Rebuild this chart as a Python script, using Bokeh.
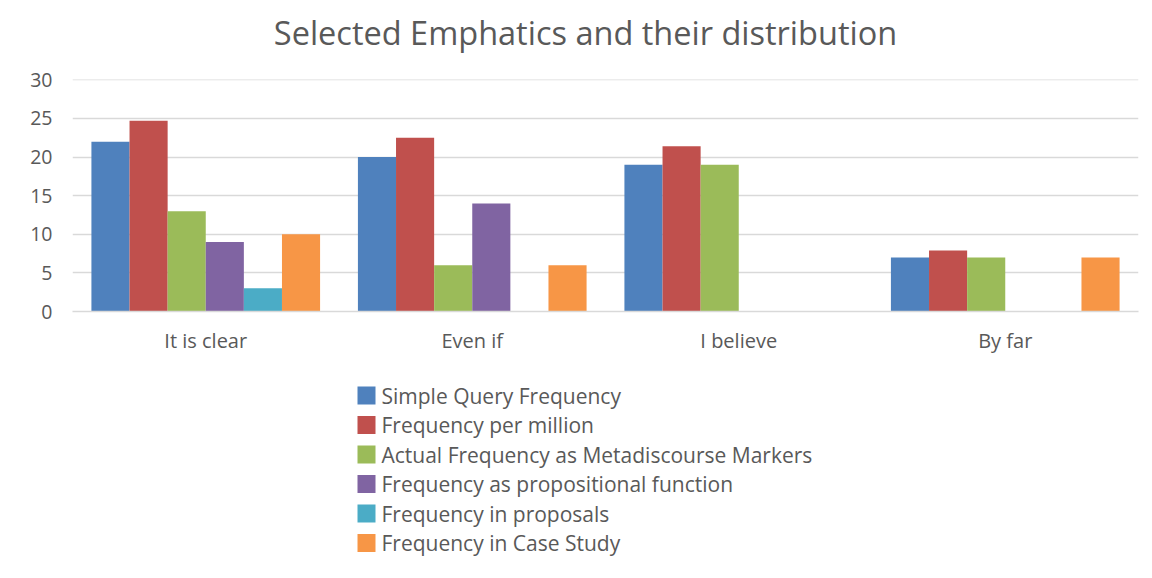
from bokeh.plotting import figure
from bokeh.models import FactorRange, ColumnDataSource, FixedTicker, Range1d
from bokeh.layouts import column
from bokeh.transform import dodge
from bokeh.core.properties import value
from bokeh.embed import file_html
from bokeh.resources import INLINE

# Emphatic expressions and their frequencies
categories = ["It is clear", "Even if", "I believe", "By far"]
series_names = [
    "Simple Query Frequency",
    "Frequency per million",
    "Actual Frequency as Metadiscourse Markers",
    "Frequency as propositional function",
    "Frequency in proposals",
    "Frequency in Case Study",
]
simple_query = [22, 20, 19, 7]
per_million = [24.7, 22.5, 21.4, 7.9]
metadiscourse = [13, 6, 19, 7]
propositional = [9, 14, 0, 0]
proposals = [3, 0, 0, 0]
case_study = [10, 6, 0, 7]
y_ticks = [0, 5, 10, 15, 20, 25, 30]
title_text = "Selected Emphatics and their distribution"

colors = ["#4f81bd", "#c0504d", "#9bbb59", "#8064a2", "#4bacc6", "#f79646"]
series_values = [simple_query, per_million, metadiscourse, propositional, proposals, case_study]

FONT = "Open Sans"
TEXT = "#595959"
GRID = "#d9d9d9"

W = 1152
LEFT, RIGHT = 72, 14          # chart frame margins
H_HEAD = 56
H_CHART = 362 - H_HEAD
H_LEGEND = 578 - H_HEAD - H_CHART


def pixel_panel(height):
    """A blank figure whose data units are page pixels (x) and pixels from its top (y).

    Frames in a column are aligned with the chart's frame, so the x range
    spans that frame's pixel extent."""
    f = figure(
        x_range=Range1d(LEFT, W - RIGHT), y_range=Range1d(height, 0),
        width=W, height=height,
        output_backend="svg", toolbar_location=None,
        x_axis_location=None, y_axis_location=None,
        min_border_left=LEFT, min_border_right=RIGHT,
        min_border_top=0, min_border_bottom=0,
    )
    f.grid.visible = False
    f.outline_line_color = None
    return f


# ---- title ----
head = pixel_panel(H_HEAD)
head.text(x=[585], y=[32], text=[title_text],
          text_font=value(FONT), text_font_size="32.5px",
          text_color=TEXT, text_baseline="middle", text_align="center")

# ---- bar chart ----
p = figure(
    x_range=FactorRange(*categories, range_padding=0),
    y_range=(0, 30.05),
    width=W, height=H_CHART,
    output_backend="svg",
    toolbar_location=None,
    min_border_left=LEFT, min_border_right=RIGHT,
    min_border_top=79 - H_HEAD, min_border_bottom=H_HEAD + H_CHART - 311,
)

src = ColumnDataSource(dict(cat=categories, **{f"s{i}": v for i, v in enumerate(series_values)}))

bar_w = 0.143
for i, col in enumerate(colors):
    off = (i - 2.5) * bar_w
    p.vbar(x=dodge("cat", off, range=p.x_range), top=f"s{i}", width=bar_w,
           source=src, fill_color=col, line_color=None)

p.outline_line_color = None
p.xgrid.grid_line_color = None
p.ygrid.grid_line_color = GRID
p.ygrid.grid_line_width = 1.3
p.yaxis.ticker = FixedTicker(ticks=y_ticks)
p.yaxis.axis_line_color = None
p.yaxis.major_tick_line_color = None
p.yaxis.minor_tick_line_color = None
p.yaxis.major_label_text_font = FONT
p.yaxis.major_label_text_font_size = "19.5px"
p.yaxis.major_label_text_color = TEXT
p.yaxis.major_label_standoff = 14

p.xaxis.axis_line_color = GRID
p.xaxis.axis_line_width = 1.3
p.xaxis.major_tick_line_color = None
p.xaxis.minor_tick_line_color = None
p.xaxis.major_label_text_font = FONT
p.xaxis.major_label_text_font_size = "20px"
p.xaxis.major_label_text_color = TEXT
p.xaxis.major_label_standoff = 9

# ---- legend ----
lg = pixel_panel(H_LEGEND)
row_y = [33 + 29.5 * i for i in range(len(series_names))]
leg_src = ColumnDataSource(dict(
    y=row_y, name=series_names, color=colors,
    x=[366] * len(series_names), tx=[381] * len(series_names),
))
lg.rect(x="x", y="y", width=18, height=18, source=leg_src,
        fill_color="color", line_color=None)
lg.text(x="tx", y="y", text="name", source=leg_src,
        text_font=value(FONT), text_font_size="21px",
        text_color=TEXT, text_baseline="middle", text_align="left")

layout = column(head, p, lg, spacing=0)
open("out.html", "w").write(file_html(layout, INLINE))
